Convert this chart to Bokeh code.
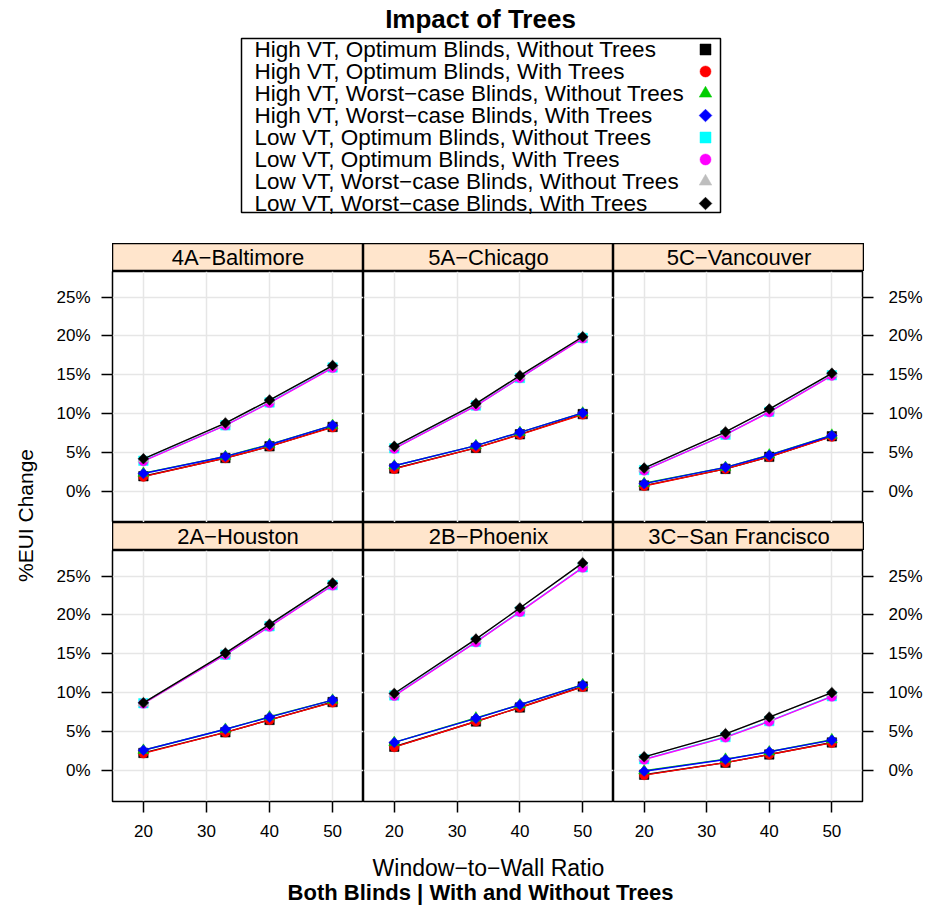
import math
from bokeh.plotting import figure
from bokeh.layouts import row, column
from bokeh.models import Range1d, LinearAxis, FixedTicker, PrintfTickFormatter, Spacer
from bokeh.embed import file_html
from bokeh.resources import INLINE
from bokeh.core.properties import value

FONT = "Liberation Sans"

# ---------------- data ----------------
wwr = [20, 33, 40, 50]
cities = ["4A\u2212Baltimore", "5A\u2212Chicago", "5C\u2212Vancouver",
          "2A\u2212Houston", "2B\u2212Phoenix", "3C\u2212San Francisco"]
x_ticks = [20, 30, 40, 50]
y_ticks = [0, 5, 10, 15, 20, 25]

series_labels = [
    "High VT, Optimum Blinds, Without Trees",
    "High VT, Optimum Blinds, With Trees",
    "High VT, Worst\u2212case Blinds, Without Trees",
    "High VT, Worst\u2212case Blinds, With Trees",
    "Low VT, Optimum Blinds, Without Trees",
    "Low VT, Optimum Blinds, With Trees",
    "Low VT, Worst\u2212case Blinds, Without Trees",
    "Low VT, Worst\u2212case Blinds, With Trees",
]
series_colors = ["#000000", "#ff0000", "#00cd00", "#0000ff",
                 "#00ffff", "#ff00ff", "#bebebe", "#000000"]
series_markers = ["square", "circle", "triangle", "diamond",
                  "square", "circle", "triangle", "diamond"]

# % EUI change, one list per city (order of `cities`), values at `wwr`
hv_opt_without = [[1.95, 4.3, 5.8, 8.3], [2.95, 5.6, 7.35, 9.95], [0.75, 2.9, 4.45, 7.1],
                  [2.25, 4.9, 6.5, 8.8], [3.05, 6.3, 8.1, 10.8], [-0.55, 1.0, 2.05, 3.6]]
hv_opt_with = [[1.9, 4.3, 5.8, 8.25], [2.9, 5.6, 7.3, 9.9], [0.7, 2.9, 4.45, 7.05],
               [2.2, 4.9, 6.5, 8.75], [3.0, 6.3, 8.1, 10.75], [-0.6, 1.0, 2.05, 3.55]]
hv_worst_without = [[2.35, 4.5, 6.05, 8.5], [3.3, 5.9, 7.6, 10.1], [1.05, 3.1, 4.7, 7.25],
                    [2.6, 5.3, 6.9, 9.05], [3.6, 6.75, 8.45, 11.05], [-0.05, 1.45, 2.4, 3.95]]
hv_worst_with = [[2.3, 4.5, 6.0, 8.5], [3.3, 5.9, 7.6, 10.1], [1.0, 3.1, 4.65, 7.2],
                 [2.6, 5.3, 6.85, 9.05], [3.6, 6.7, 8.45, 11.0], [-0.1, 1.4, 2.4, 3.9]]
lv_opt_without = [[3.95, 8.5, 11.45, 15.95], [5.55, 11.05, 14.6, 19.75], [2.75, 7.3, 10.25, 14.95],
                  [8.65, 14.9, 18.55, 23.85], [9.65, 16.55, 20.45, 26.15], [1.45, 4.3, 6.35, 9.55]]
lv_opt_with = [[3.9, 8.5, 11.4, 15.9], [5.5, 11.0, 14.6, 19.7], [2.7, 7.3, 10.2, 14.9],
               [8.6, 14.9, 18.5, 23.8], [9.6, 16.5, 20.4, 26.1], [1.4, 4.25, 6.3, 9.5]]
lv_worst_without = [[4.2, 8.8, 11.75, 16.2], [5.8, 11.3, 14.9, 19.9], [3.0, 7.65, 10.6, 15.2],
                    [8.7, 15.1, 18.8, 24.1], [9.9, 16.9, 20.9, 26.7], [1.75, 4.7, 6.85, 10.0]]
lv_worst_with = [[4.2, 8.8, 11.75, 16.2], [5.8, 11.3, 14.9, 19.9], [3.0, 7.65, 10.6, 15.2],
                 [8.7, 15.1, 18.8, 24.1], [9.9, 16.9, 20.9, 26.7], [1.75, 4.7, 6.85, 10.0]]

all_series = [hv_opt_without, hv_opt_with, hv_worst_without, hv_worst_with,
              lv_opt_without, lv_opt_with, lv_worst_without, lv_worst_with]

# marker rendering: (bokeh marker, size, angle) -- the diamond is a rotated square
marker_style = {"square": ("square", 9.5, 0.0), "circle": ("circle", 9.5, 0.0),
                "triangle": ("triangle", 11, 0.0), "diamond": ("square", 7.5, math.pi / 4)}

X_RANGE = (15.1, 54.9)
Y_RANGE = (-4.0, 28.3)

LEFT_PAD = 40          # y-label column
LEFT_B, RIGHT_B, BOTTOM_B = 72, 61, 44
frame_ws = [251, 250, 251]
TOTAL_W = LEFT_PAD + LEFT_B + sum(frame_ws) + RIGHT_B
HEAD_H = 243
FOOT_H = 60


def blank_fig(w, h, xr, yr):
    f = figure(width=w, height=h, x_range=Range1d(*xr), y_range=Range1d(*yr),
               x_axis_location=None, y_axis_location=None, toolbar_location=None,
               output_backend="svg", min_border=0)
    f.grid.visible = False
    f.outline_line_color = None
    return f


def style_axis(ax, standoff):
    ax.axis_line_color = None
    ax.major_tick_in = 0
    ax.major_tick_out = 11
    ax.major_tick_line_color = "black"
    ax.major_tick_line_width = 1.5
    ax.minor_tick_line_color = None
    ax.major_label_text_font = FONT
    ax.major_label_text_font_size = "17px"
    ax.major_label_text_color = "black"
    ax.major_label_standoff = standoff


def add_points(fig, xs, ys, kind, color, extra=0.0):
    mk, size, ang = marker_style[kind]
    fig.scatter(xs, ys, marker=mk, size=size + extra, angle=ang,
                fill_color=color, line_color=color, line_width=0.5)


def panel(i, frame_w, left=0, right=0, bottom=0):
    h = 251 + bottom
    p = figure(width=frame_w + left + right, height=h,
               x_range=Range1d(*X_RANGE), y_range=Range1d(*Y_RANGE),
               x_axis_location=None, y_axis_location=None, toolbar_location=None,
               output_backend="svg", min_border_left=left, min_border_right=right,
               min_border_top=0, min_border_bottom=bottom)
    p.xgrid.ticker = FixedTicker(ticks=x_ticks)
    p.ygrid.ticker = FixedTicker(ticks=y_ticks)
    p.grid.grid_line_color = "#e6e6e6"
    p.grid.grid_line_width = 1.5
    p.outline_line_color = "black"
    p.outline_line_width = 1.5
    if left:
        ax = LinearAxis(ticker=FixedTicker(ticks=y_ticks), formatter=PrintfTickFormatter(format="%d%%"))
        style_axis(ax, 11)
        p.add_layout(ax, "left")
    if right:
        ax = LinearAxis(ticker=FixedTicker(ticks=y_ticks), formatter=PrintfTickFormatter(format="%d%%"))
        style_axis(ax, 15)
        p.add_layout(ax, "right")
    if bottom:
        ax = LinearAxis(ticker=FixedTicker(ticks=x_ticks))
        style_axis(ax, 12)
        p.add_layout(ax, "below")
    for s, data in enumerate(all_series):
        p.line(wwr, data[i], line_color=series_colors[s], line_width=1.4)
        add_points(p, wwr, data[i], series_markers[s], series_colors[s])
    return p


def strip(name, w):
    s = blank_fig(w, 28, (0, 1), (0, 1))
    s.background_fill_color = "#ffe5cc"
    s.outline_line_color = "black"
    s.outline_line_width = 1.5
    s.text(x=[0.5], y=[0.5], text=[name], text_align="center", text_baseline="middle",
           text_font=value(FONT), text_font_size="22px", text_color="black")
    return s


# ---------------- header: title + legend ----------------
head = blank_fig(TOTAL_W, HEAD_H, (0, TOTAL_W), (HEAD_H, 0))
head.text(x=[480], y=[18], text=["Impact of Trees"], text_align="center",
          text_baseline="middle", text_font=value(FONT), text_font_size="26px",
          text_font_style="bold", text_color="black")
head.quad(left=[241], right=[720], top=[38], bottom=[212], fill_color=None,
          line_color="black", line_width=1.5)
row_y = [49 + 22 * k for k in range(len(series_labels))]
head.text(x=[254] * len(series_labels), y=row_y, text=series_labels, text_align="left",
          text_baseline="middle", text_font=value(FONT), text_font_size="22.5px", text_color="black")
for k in range(len(series_labels)):
    add_points(head, [705], [row_y[k]], series_markers[k], series_colors[k], extra=1.5)

# ---------------- panels ----------------
strip_row1 = row(Spacer(width=LEFT_B, height=28),
                 *[strip(cities[c], frame_ws[c]) for c in range(3)],
                 Spacer(width=RIGHT_B, height=28))
panel_row1 = row(panel(0, frame_ws[0], left=LEFT_B),
                 panel(1, frame_ws[1]),
                 panel(2, frame_ws[2], right=RIGHT_B))
strip_row2 = row(Spacer(width=LEFT_B, height=28),
                 *[strip(cities[3 + c], frame_ws[c]) for c in range(3)],
                 Spacer(width=RIGHT_B, height=28))
panel_row2 = row(panel(3, frame_ws[0], left=LEFT_B, bottom=BOTTOM_B),
                 panel(4, frame_ws[1], bottom=BOTTOM_B),
                 panel(5, frame_ws[2], right=RIGHT_B, bottom=BOTTOM_B))
grid_col = column(strip_row1, panel_row1, strip_row2, panel_row2)

MAIN_H = 28 + 251 + 28 + 251 + BOTTOM_B
ylab = blank_fig(LEFT_PAD, MAIN_H, (0, LEFT_PAD), (0, MAIN_H))
ylab.text(x=[25], y=[MAIN_H - 272], text=["%EUI Change"], angle=math.pi / 2, text_align="center",
          text_baseline="middle", text_font=value(FONT), text_font_size="21px", text_color="black")

# ---------------- footer ----------------
foot = blank_fig(TOTAL_W, FOOT_H, (0, TOTAL_W), (FOOT_H, 0))
foot.text(x=[488], y=[22], text=["Window\u2212to\u2212Wall Ratio"], text_align="center",
          text_baseline="middle", text_font=value(FONT), text_font_size="23px", text_color="black")
foot.text(x=[480], y=[47], text=["Both Blinds | With and Without Trees"], text_align="center",
          text_baseline="middle", text_font=value(FONT), text_font_size="22px",
          text_font_style="bold", text_color="black")

layout = column(head, row(ylab, grid_col), foot)

open("out.html", "w").write(file_html(layout, INLINE))
